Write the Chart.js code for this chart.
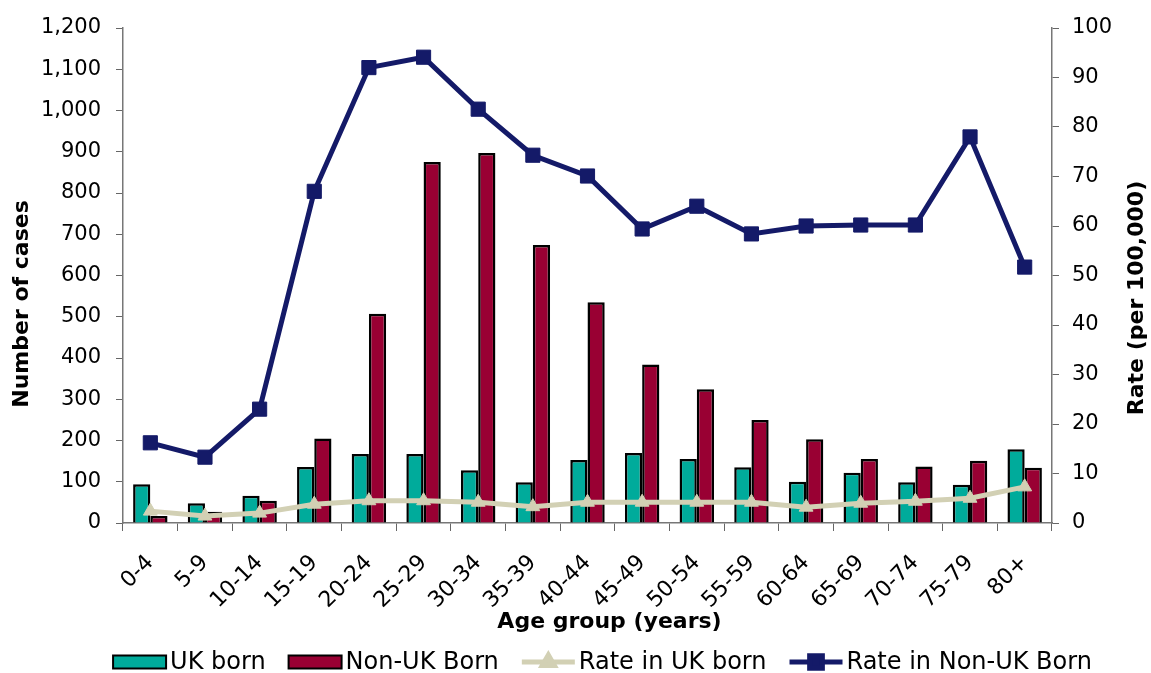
<!DOCTYPE html>
<html>
<head>
<meta charset="utf-8">
<script src="https://cdn.jsdelivr.net/npm/chart.js@4.4.1/dist/chart.umd.min.js"></script>
<style>
  html, body { margin: 0; padding: 0; background: #fff; }
</style>
</head>
<body>
<canvas id="mychart" width="1151" height="673"></canvas>
<script>
// age groups on the x axis
const ageGroups = ['0-4', '5-9', '10-14', '15-19', '20-24', '25-29', '30-34', '35-39', '40-44',
    '45-49', '50-54', '55-59', '60-64', '65-69', '70-74', '75-79', '80+'];

// number of cases (left axis)
const ukBorn    = [94, 48, 66, 136, 167, 167, 128, 99, 153, 170, 155, 135, 100, 122, 99, 93, 179];
const nonUkBorn = [17, 27, 54, 205, 507, 875, 897, 674, 535, 384, 324, 250, 203, 155, 137, 151, 134];

// rates per 100,000 (right axis)
const rateUkBorn    = [2.4, 1.4, 2.0, 3.8, 4.5, 4.5, 4.2, 3.3, 4.2, 4.2, 4.2, 4.2, 3.2, 4.0, 4.4, 5.0, 7.3];
const rateNonUkBorn = [16.2, 13.3, 23.0, 67.0, 92.0, 94.1, 83.6, 74.3, 70.1, 59.4, 64.0, 58.4, 60.0, 60.2, 60.2, 78.0, 51.7];

// axis titles
const xTitle = 'Age group (years)';
const leftTitle = 'Number of cases';
const rightTitle = 'Rate (per 100,000)';

const FONT = '"DejaVu Sans", Arial, sans-serif';

// axis titles drawn by hand: both vertical ones read bottom-to-top and sit a bit low, like the original
const axisTitlesPlugin = {
    id: 'axisTitles',
    afterDraw(chart) {
        const ctx = chart.ctx;
        const area = chart.chartArea;
        const midX = (area.left + area.right) / 2;
        ctx.save();
        ctx.font = 'bold 22px ' + FONT;
        ctx.fillStyle = '#000';
        ctx.textAlign = 'center';
        ctx.textBaseline = 'middle';

        ctx.fillText(xTitle, midX + 22, 622);

        [[22, 304, leftTitle], [1137, 298, rightTitle]].forEach(t => {
            ctx.save();
            ctx.translate(t[0], t[1]);
            ctx.rotate(-Math.PI / 2);
            ctx.fillText(t[2], 0, 0);
            ctx.restore();
        });
        ctx.restore();
    }
};

// one-row legend at the bottom (bars as boxes, lines with their marker)
const legendRowPlugin = {
    id: 'legendRow',
    afterDraw(chart) {
        const ctx = chart.ctx;
        const area = chart.chartArea;
        const symW = 53, gap = 4, spacing = 23, cy = 662;
        ctx.save();
        ctx.font = '24px ' + FONT;
        const items = chart.data.datasets.map(ds => ({ ds: ds, tw: ctx.measureText(ds.label).width }));
        let total = spacing * (items.length - 1);
        items.forEach(it => total += symW + gap + it.tw);
        let x = (area.left + area.right) / 2 + 15 - total / 2;

        items.forEach(it => {
            const ds = it.ds;
            if (ds.type === 'line') {
                ctx.strokeStyle = ds.borderColor;
                ctx.lineWidth = ds.borderWidth;
                ctx.beginPath();
                ctx.moveTo(x, cy);
                ctx.lineTo(x + symW, cy);
                ctx.stroke();
                ctx.fillStyle = ds.pointBackgroundColor;
                ctx.strokeStyle = ds.pointBorderColor;
                Chart.helpers.drawPoint(ctx, {
                    pointStyle: ds.pointStyle,
                    radius: ds.pointRadius - 1,
                    borderWidth: 1,
                    rotation: 0
                }, x + symW / 2, cy);
            } else {
                ctx.fillStyle = ds.backgroundColor;
                ctx.fillRect(x, cy - 6.5, symW, 13);
                ctx.strokeStyle = '#000';
                ctx.lineWidth = 2;
                ctx.strokeRect(x, cy - 6.5, symW, 13);
            }
            ctx.fillStyle = '#000';
            ctx.textAlign = 'left';
            ctx.textBaseline = 'middle';
            ctx.fillText(ds.label, x + symW + gap, cy + 1);
            x += symW + gap + it.tw + spacing;
        });
        ctx.restore();
    }
};

const ctx = document.getElementById('mychart').getContext('2d');
const chart = new Chart(ctx, {
    data: {
        labels: ageGroups,
        datasets: [
            {
                type: 'bar', label: 'UK born', data: ukBorn, yAxisID: 'y',
                backgroundColor: '#00AB9B', borderColor: '#000', borderWidth: 2.5,
                barPercentage: 1, categoryPercentage: 0.63, order: 2
            },
            {
                type: 'bar', label: 'Non-UK Born', data: nonUkBorn, yAxisID: 'y',
                backgroundColor: '#990033', borderColor: '#000', borderWidth: 2.5,
                barPercentage: 1, categoryPercentage: 0.63, order: 2
            },
            {
                type: 'line', label: 'Rate in UK born', data: rateUkBorn, yAxisID: 'y1',
                borderColor: '#D2D0B4', borderWidth: 5,
                pointStyle: 'triangle', pointRadius: 8,
                pointBackgroundColor: '#D2D0B4', pointBorderColor: '#D2D0B4', pointBorderWidth: 1,
                tension: 0, order: 1
            },
            {
                type: 'line', label: 'Rate in Non-UK Born', data: rateNonUkBorn, yAxisID: 'y1',
                borderColor: '#141A68', borderWidth: 5,
                pointStyle: 'rect', pointRadius: 10,
                pointBackgroundColor: '#141A68', pointBorderColor: '#141A68', pointBorderWidth: 1,
                tension: 0, order: 0
            }
        ]
    },
    options: {
        responsive: false,
        animation: false,
        locale: 'en-US',
        layout: { padding: { top: 28, left: 0, right: 0, bottom: 0 } },
        plugins: {
            legend: { display: false },
            tooltip: { enabled: false }
        },
        scales: {
            x: {
                offset: true,
                grid: { offset: true, drawOnChartArea: false, tickLength: 8, color: '#666' },
                border: { color: '#777', width: 1.5 },
                ticks: { minRotation: 45, maxRotation: 45, padding: 19, color: '#000', font: { family: FONT, size: 22 } },
                afterFit(scale) { scale.height = 150; }
            },
            y: {
                position: 'left', min: 0, max: 1200,
                grid: { drawOnChartArea: false, tickLength: 7, color: '#666' },
                border: { color: '#777', width: 1.5 },
                ticks: { stepSize: 100, padding: 15, color: '#000', font: { family: FONT, size: 21 } },
                afterFit(scale) { scale.width = 123; }
            },
            y1: {
                position: 'right', min: 0, max: 100,
                grid: { drawOnChartArea: false, tickLength: 7, color: '#666' },
                border: { color: '#777', width: 1.5 },
                ticks: { stepSize: 10, padding: 13, color: '#000', font: { family: FONT, size: 21 } },
                afterFit(scale) { scale.width = 99; }
            }
        }
    },
    plugins: [axisTitlesPlugin, legendRowPlugin]
});
</script>
</body>
</html>
